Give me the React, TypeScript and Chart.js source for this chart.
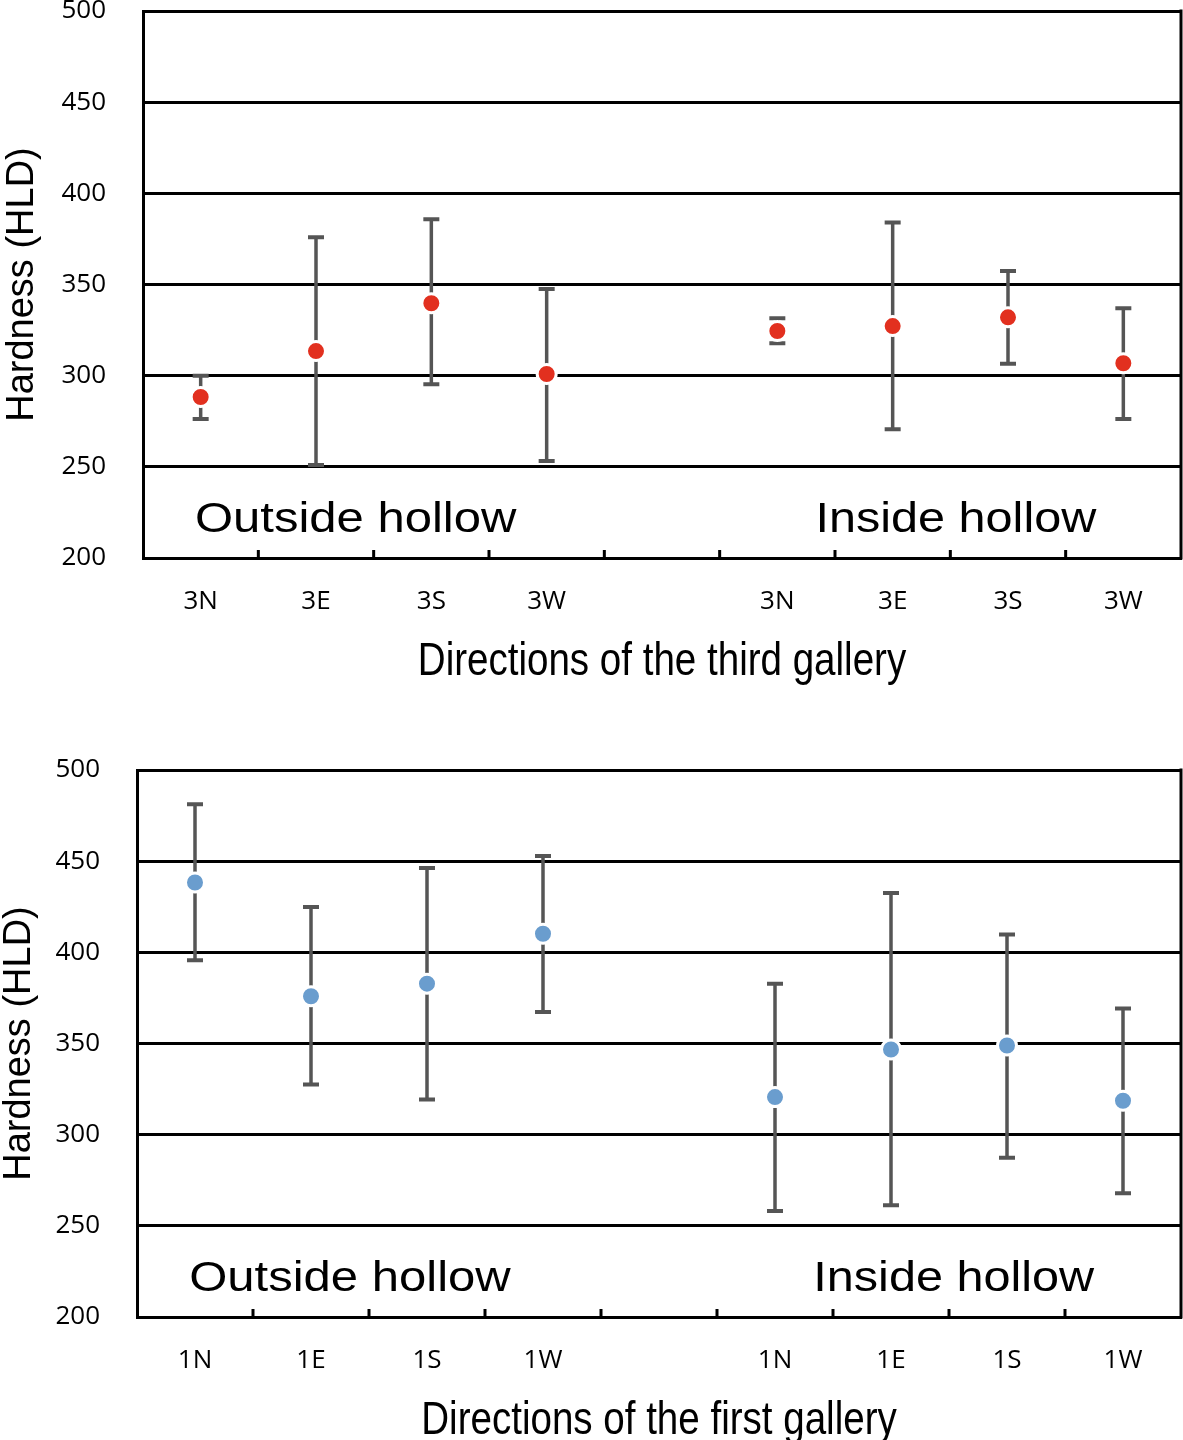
import React, { useEffect, useRef } from 'react';
import { Chart, registerables } from 'chart.js';

Chart.register(...registerables);

// ---------- data ----------
const TOP_CATEGORIES = ['3N', '3E', '3S', '3W', '', '3N', '3E', '3S', '3W'];
const TOP_MEAN = [288.3, 313.5, 339.7, 300.9, null, 324.5, 327.2, 332.0, 306.8];
const TOP_LOW = [276.2, 251.0, 295.3, 253.2, null, 317.8, 270.6, 306.6, 276.2];
const TOP_HIGH = [300.0, 375.9, 385.8, 347.5, null, 331.5, 384.0, 357.4, 337.0];

const BOTTOM_CATEGORIES = ['1N', '1E', '1S', '1W', '', '1N', '1E', '1S', '1W'];
const BOTTOM_MEAN = [438.3, 375.9, 382.8, 410.2, null, 320.6, 346.7, 348.9, 318.6];
const BOTTOM_LOW = [395.6, 327.5, 319.3, 367.3, null, 258.2, 261.3, 287.4, 267.9];
const BOTTOM_HIGH = [481.2, 424.8, 446.2, 452.9, null, 382.8, 432.5, 409.8, 369.2];

const Y_MIN = 200;
const Y_MAX = 500;
const Y_STEP = 50;
const GROUP_LABELS = ['Outside hollow', 'Inside hollow'];
const Y_TITLE = 'Hardness (HLD)';
const TOP_X_TITLE = 'Directions of the third gallery';
const BOTTOM_X_TITLE = 'Directions of the first gallery';

type PanelProps = {
  categories: string[];
  mean: (number | null)[];
  low: (number | null)[];
  high: (number | null)[];
  xTitle: string;
  color: string;
  height: number;
  padTop: number;
  yAxisWidth: number;
  yTitleOffset: number;
};

const TICK_FONT = { family: '"Open Sans", sans-serif', size: 26 };

function Panel(props: PanelProps) {
  const ref = useRef<HTMLCanvasElement | null>(null);

  useEffect(() => {
    const canvas = ref.current;
    if (!canvas) return;

    const errorBars = {
      id: 'errorBars',
      beforeDatasetsDraw(chart: any) {
        const { ctx } = chart;
        const xs = chart.scales.x;
        const ys = chart.scales.y;
        ctx.save();
        ctx.strokeStyle = '#555555';
        for (let i = 0; i < props.mean.length; i++) {
          const lo = props.low[i];
          const hi = props.high[i];
          if (lo == null || hi == null) continue;
          const x = xs.getPixelForValue(i);
          const yl = ys.getPixelForValue(lo);
          const yh = ys.getPixelForValue(hi);
          ctx.lineWidth = 3.5;
          ctx.beginPath();
          ctx.moveTo(x, yl);
          ctx.lineTo(x, yh);
          ctx.stroke();
          ctx.lineWidth = 4;
          ctx.beginPath();
          ctx.moveTo(x - 8, yl);
          ctx.lineTo(x + 8, yl);
          ctx.moveTo(x - 8, yh);
          ctx.lineTo(x + 8, yh);
          ctx.stroke();
        }
        ctx.restore();
      },
      afterDraw(chart: any) {
        const { ctx, chartArea } = chart;
        const xs = chart.scales.x;
        const ys = chart.scales.y;
        ctx.save();
        // right frame border
        ctx.strokeStyle = '#000';
        ctx.lineWidth = 3;
        ctx.beginPath();
        ctx.moveTo(chartArea.right, chartArea.top - 1.5);
        ctx.lineTo(chartArea.right, chartArea.bottom + 1.5);
        ctx.stroke();
        // inward tick marks at category boundaries
        ctx.lineWidth = 3;
        ctx.beginPath();
        for (let i = 1; i < props.categories.length; i++) {
          const bx = (xs.getPixelForValue(i - 1) + xs.getPixelForValue(i)) / 2;
          ctx.moveTo(bx, chartArea.bottom);
          ctx.lineTo(bx, chartArea.bottom - 8);
        }
        ctx.stroke();

        // group labels
        const slot = xs.getPixelForValue(1) - xs.getPixelForValue(0);
        const baseY = ys.getPixelForValue(214);
        ctx.fillStyle = '#000';
        ctx.font = '43px "Liberation Sans", Arial, sans-serif';
        ctx.textBaseline = 'alphabetic';
        ctx.textAlign = 'left';
        const drawStretched = (text: string, x: number, y: number, sx: number) => {
          ctx.save();
          ctx.translate(x, y);
          ctx.scale(sx, 1);
          ctx.fillText(text, 0, 0);
          ctx.restore();
        };
        drawStretched(GROUP_LABELS[0], xs.getPixelForValue(0) - 0.05 * slot, baseY, 1.14);
        drawStretched(GROUP_LABELS[1], xs.getPixelForValue(5) + 0.33 * slot, baseY, 1.13);

        // x-axis title (condensed)
        ctx.font = '47px "Liberation Sans", Arial, sans-serif';
        ctx.textAlign = 'center';
        drawStretched(props.xTitle, (chartArea.left + chartArea.right) / 2, chartArea.bottom + 117, 0.82);
        ctx.restore();
      },
    };

    const chart = new Chart(canvas, {
      type: 'line',
      data: {
        labels: props.categories,
        datasets: [
          {
            data: props.mean as any,
            showLine: false,
            pointRadius: 9.5,
            pointHoverRadius: 9.5,
            pointBorderWidth: 3,
            pointBackgroundColor: props.color,
            pointBorderColor: '#ffffff',
          },
        ],
      },
      options: {
        responsive: false,
        animation: false,
        layout: { autoPadding: false, padding: { top: props.padTop, right: 2, left: 0, bottom: 0 } },
        plugins: { legend: { display: false }, tooltip: { enabled: false } },
        scales: {
          x: {
            type: 'category',
            offset: true,
            grid: { drawOnChartArea: false, drawTicks: false },
            border: { display: true, color: '#000', width: 3 },
            ticks: {
              color: '#000',
              font: TICK_FONT,
              padding: 28,
              maxRotation: 0,
              autoSkip: false,
            },
            afterFit: (s: any) => {
              s.height = props.height - props.padTop - 547;
              s.paddingLeft = 0;
              s.paddingRight = 0;
            },
          },
          y: {
            min: Y_MIN,
            max: Y_MAX,
            ticks: {
              stepSize: Y_STEP,
              color: '#000',
              font: TICK_FONT,
              padding: 37,
            },
            grid: { color: '#000', lineWidth: 3, drawTicks: false },
            border: { display: true, color: '#000', width: 3 },
            title: {
              display: true,
              text: Y_TITLE,
              color: '#000',
              font: { family: '"Liberation Sans", Arial, sans-serif', size: 38 },
              padding: { top: props.yTitleOffset, bottom: 0 },
            },
            afterFit: (s: any) => {
              s.width = props.yAxisWidth;
              s.paddingTop = 0;
              s.paddingBottom = 0;
            },
          },
        },
      },
      plugins: [errorBars],
    });

    return () => chart.destroy();
  }, []);

  return (
    <canvas
      ref={ref}
      width={1183}
      height={props.height}
      style={{ display: 'block', width: 1183, height: props.height }}
    />
  );
}

export default function App() {
  useEffect(() => {
    document.body.style.margin = '0';
  }, []);
  return (
    <div style={{ width: 1183, background: '#fff' }}>
      <Panel
        categories={TOP_CATEGORIES}
        mean={TOP_MEAN}
        low={TOP_LOW}
        high={TOP_HIGH}
        xTitle={TOP_X_TITLE}
        color="#E2301F"
        height={720}
        padTop={11}
        yAxisWidth={143}
        yTitleOffset={0}
      />
      <Panel
        categories={BOTTOM_CATEGORIES}
        mean={BOTTOM_MEAN}
        low={BOTTOM_LOW}
        high={BOTTOM_HIGH}
        xTitle={BOTTOM_X_TITLE}
        color="#6A9DCE"
        height={720}
        padTop={50}
        yAxisWidth={137}
        yTitleOffset={-3}
      />
    </div>
  );
}
